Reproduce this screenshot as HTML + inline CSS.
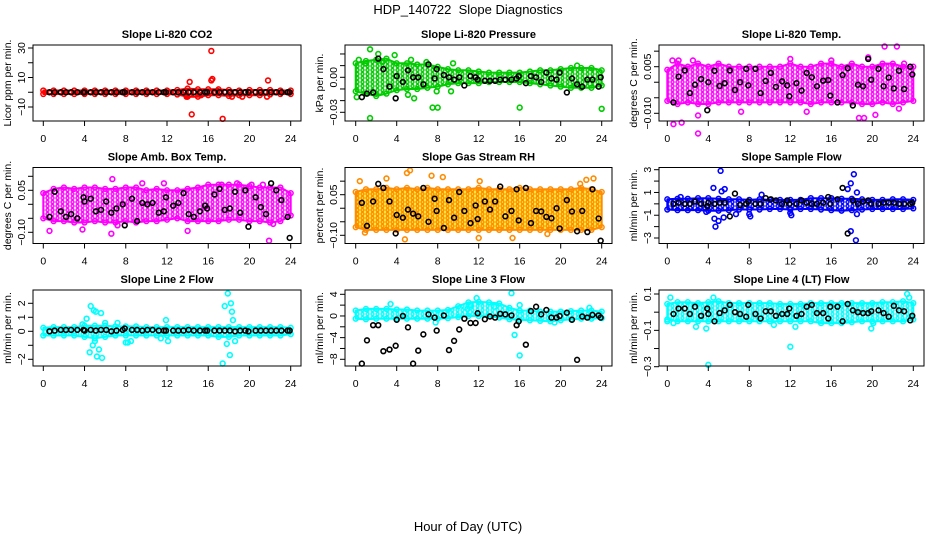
<!DOCTYPE html>
<html><head><meta charset="utf-8"><title>HDP_140722 Slope Diagnostics</title>
<style>
html,body{margin:0;padding:0;background:#fff;}
svg{display:block;font-family:"Liberation Sans",Helvetica,Arial,sans-serif;}
</style></head>
<body>
<svg id="chart" width="936" height="540" viewBox="0 0 936 540" xmlns="http://www.w3.org/2000/svg">
<defs id="defs"></defs>
<text x="468" y="14" text-anchor="middle" font-size="13">HDP_140722&#160; Slope Diagnostics</text>
<text x="468" y="531" text-anchor="middle" font-size="13">Hour of Day (UTC)</text>
</svg>
<script>
// ---- shared data ----
const xTicks = [0,4,8,12,16,20,24];
const bandHours = [0,1,2,3,4,5,6,7,8,9,10,11,12,13,14,15,16,17,18,19,20,21,22,23,24];
const blackHours = [0.6,1.1,1.7,2.2,2.7,3.3,3.9,4.0,4.6,5.1,5.6,6.1,6.6,7.1,7.7,7.9,8.6,9.1,9.6,10.1,10.6,11.2,11.7,11.9,12.6,13.1,13.6,14.1,14.6,15.2,15.7,15.9,16.6,17.1,17.6,18.1,18.6,19.1,19.6,19.9,20.6,21.1,21.6,22.1,22.6,23.1,23.7,23.9];

// Panel 1: CO2
const co2BandHi = [1.2,1.2,1.2,1.2,1.2,1.2,1.2,1.2,1.2,1.2,1.2,1.2,1.2,1.5,2.5,2,2,2,1.5,1.2,1.5,1.5,1.5,1.2,1.2];
const co2BandLo = [-1.2,-1.2,-1.2,-1.2,-1.2,-1.2,-1.2,-1.2,-1.2,-1.2,-1.2,-1.2,-1.2,-1.5,-3,-3,-2,-2,-2.5,-2,-2,-2,-1.5,-1.2,-1.2];
const co2OutX = [14.2,14.4,13.9,13.8,16.3,16.3,16.4,17.4,21.8,18.3,19.3,21.7,15.3,16.9,13.9];
const co2OutY = [7,-15,-3,1,28,8,9,-18,8,-3,-3,-3,-2,1,-2];
const co2Black = [0,0,0,0,0,0,0,0,0,0,0,0,0,0,0,0,0,0,0,0,0,0,0,0,0,0,0,0,0,0,0,0,0,0,0,0,0,0,0,0,0,0,0,0,0,0,0,0];

// Panel 2: Pressure
const presBandHi = [0.012,0.014,0.015,0.016,0.012,0.012,0.011,0.011,0.009,0.007,0.006,0.006,0.005,0.004,0.004,0.004,0.004,0.005,0.006,0.006,0.007,0.008,0.008,0.008,0.006];
const presBandLo = [-0.012,-0.014,-0.016,-0.014,-0.011,-0.010,-0.010,-0.009,-0.008,-0.006,-0.005,-0.005,-0.005,-0.004,-0.004,-0.004,-0.004,-0.005,-0.006,-0.007,-0.008,-0.009,-0.009,-0.009,-0.007];
const presOutX = [1.4,2.2,3.8,5.4,0.3,1.4,0.1,5.7,7.5,8.0,16.0,24.0,6.9,1.0,9.3,5.1,2.6,7.9,9.5,21.6];
const presOutY = [0.024,0.020,0.019,0.015,0.015,-0.035,-0.017,-0.018,-0.026,-0.026,-0.026,-0.027,0.013,0.012,-0.012,-0.015,0.013,-0.012,0.012,0.010];
const presBlack = [-0.017,-0.014,-0.013,0.016,0.007,-0.008,-0.018,0.001,-0.004,0.006,0.0,0.0,-0.006,0.011,-0.001,0.007,0.002,0.0,-0.002,0.0,-0.007,0.001,0.0,-0.002,-0.003,-0.003,-0.003,-0.002,-0.002,-0.002,-0.001,0.001,-0.005,0.001,0.0,-0.004,0.004,-0.001,-0.002,0.004,-0.013,-0.001,-0.006,-0.008,-0.002,-0.002,-0.008,0.0];

// Panel 3: Li-820 Temp
const ltBandHi = [0.004,0.006,0.005,0.006,0.005,0.006,0.005,0.005,0.005,0.005,0.005,0.005,0.006,0.005,0.005,0.006,0.006,0.005,0.006,0.005,0.005,0.006,0.006,0.005,0.005];
const ltBandLo = [-0.006,-0.007,-0.0065,-0.007,-0.007,-0.0065,-0.0065,-0.0065,-0.0065,-0.0065,-0.0065,-0.0065,-0.0065,-0.0065,-0.007,-0.0065,-0.0065,-0.0065,-0.0065,-0.007,-0.007,-0.0065,-0.007,-0.0065,-0.006];
const ltOutX = [0.6,1.4,3.0,21.2,22.4,18.7,19.2,20.3,3.0,19.6,7.2,0.5,1.1,2.5,13.6,16.0,12.0,22.6,23.1];
const ltOutY = [-0.0135,-0.013,-0.0165,0.0115,0.0115,-0.0115,-0.0115,-0.0105,-0.0107,0.008,-0.0095,0.007,0.007,0.007,-0.0095,0.007,0.0075,-0.0085,0.006];
const ltBlack = [-0.0065,0.0018,0.0038,-0.0035,-0.0008,0.001,-0.009,0.0,0.0037,-0.0012,-0.0003,0.0038,-0.0025,0.0,0.0043,-0.001,0.0043,-0.0035,0.0004,0.003,-0.0015,0.0003,-0.001,-0.0045,-0.0003,-0.0027,0.003,0.0016,-0.0013,0.0005,0.0007,-0.0043,-0.0065,0.0023,0.0045,-0.0075,-0.0008,-0.0013,0.0075,0.0008,0.0043,-0.0013,0.0015,-0.002,0.0037,-0.0022,0.005,0.0025];

// Panel 4: Amb. Box Temp
const abBandHi = [0.04,0.055,0.06,0.055,0.06,0.06,0.055,0.055,0.06,0.06,0.05,0.055,0.05,0.05,0.055,0.06,0.07,0.07,0.07,0.07,0.065,0.06,0.06,0.06,0.04];
const abBandLo = [-0.05,-0.06,-0.06,-0.065,-0.065,-0.06,-0.065,-0.065,-0.06,-0.065,-0.06,-0.06,-0.055,-0.05,-0.06,-0.06,-0.06,-0.06,-0.055,-0.055,-0.06,-0.06,-0.065,-0.06,-0.04];
const abOutX = [0.6,3.8,6.7,6.6,14.0,21.9,22.3,9.6,11.7,17.3,18.8,20.2,21.3,7.2];
const abOutY = [-0.095,-0.09,0.09,-0.105,-0.095,-0.13,-0.07,0.075,0.075,0.07,0.075,0.07,0.07,-0.075];
const abBlack = [-0.045,0.045,-0.025,-0.045,-0.035,-0.05,0.025,0.01,0.02,-0.025,-0.02,0.01,-0.03,-0.015,0.0,-0.075,0.02,-0.06,0.005,0.0,0.005,-0.03,-0.025,0.025,-0.005,0.005,0.04,-0.035,-0.045,-0.025,-0.005,-0.015,0.035,0.055,-0.02,-0.015,0.045,-0.03,0.05,-0.08,0.025,-0.01,-0.035,0.075,0.05,0.015,-0.045,-0.12];

// Panel 5: Gas Stream RH
const rhBandHi = [0.06,0.07,0.07,0.075,0.07,0.075,0.07,0.075,0.07,0.07,0.07,0.07,0.075,0.07,0.07,0.07,0.075,0.07,0.07,0.07,0.07,0.07,0.075,0.07,0.06];
const rhBandLo = [-0.07,-0.08,-0.08,-0.08,-0.08,-0.08,-0.08,-0.08,-0.08,-0.08,-0.08,-0.08,-0.08,-0.08,-0.08,-0.08,-0.08,-0.08,-0.08,-0.08,-0.08,-0.08,-0.08,-0.08,-0.07];
const rhOutX = [4.8,5.3,12.0,15.3,0.4,23.2,7.4,3.0,12.1,5.0,8.5,18.7,0.9,21.9,22.5];
const rhOutY = [-0.115,0.14,-0.11,-0.11,0.1,0.11,0.12,0.11,0.1,0.13,0.115,-0.095,-0.09,0.09,0.105];
const rhBlack = [0.02,-0.065,0.025,0.09,0.075,0.025,-0.093,-0.025,-0.035,-0.005,-0.02,-0.03,0.075,-0.05,0.035,-0.01,-0.073,0.03,-0.035,0.06,-0.01,-0.055,0.01,-0.04,0.025,-0.005,0.025,0.08,-0.03,-0.01,0.07,-0.045,0.075,-0.055,-0.01,-0.012,-0.032,-0.037,0.0,-0.075,0.03,-0.012,-0.085,-0.01,-0.088,0.07,-0.038,-0.12];

// Panel 6: Sample Flow
const sfBandHi = [0.4,0.45,0.45,0.5,0.5,0.45,0.4,0.4,0.35,0.4,0.35,0.35,0.35,0.35,0.5,0.5,0.5,0.45,0.45,0.4,0.35,0.35,0.4,0.4,0.35];
const sfBandLo = [-0.5,-0.55,-0.55,-0.55,-0.6,-0.6,-0.55,-0.5,-0.5,-0.5,-0.45,-0.45,-0.5,-0.45,-0.45,-0.5,-0.55,-0.6,-0.55,-0.5,-0.45,-0.45,-0.45,-0.45,-0.4];
const sfOutX = [4.5,5.2,5.3,5.6,4.7,4.6,5.0,5.5,8.1,8.0,12.1,9.2,17.6,17.9,18.2,18.5,17.9,18.4,18.5,6.7,1.3,12.0,3.8];
const sfOutY = [1.4,2.9,1.1,1.3,-2.0,-1.3,-1.5,-1.2,-1.1,-0.9,-1.0,0.8,1.3,1.8,2.6,1.0,-2.4,-3.2,-0.9,-0.9,0.6,-0.8,-0.7];
const sfBlack = [0.0,0.1,0.0,0.0,0.2,0.0,-0.2,0.1,0.0,0.1,0.1,-1.1,0.9,-0.1,0.0,0.2,0.0,0.0,0.5,0.4,0.3,0.0,0.3,0.0,0.0,0.3,0.1,0.0,0.0,0.1,0.6,0.0,0.4,1.4,-2.6,0.3,0.0,0.2,0.3,0.0,0.0,0.1,0.1,0.1,0.0,0.0,0.0,0.1];

// Panel 7: Line 2 Flow
const l2BandHi = [0.25,0.3,0.3,0.3,0.4,0.4,0.4,0.35,0.35,0.35,0.3,0.3,0.3,0.3,0.3,0.3,0.3,0.3,0.3,0.3,0.3,0.3,0.3,0.3,0.25];
const l2BandLo = [-0.3,-0.3,-0.3,-0.3,-0.4,-0.5,-0.4,-0.3,-0.3,-0.3,-0.3,-0.3,-0.3,-0.3,-0.3,-0.3,-0.3,-0.4,-0.4,-0.3,-0.3,-0.3,-0.3,-0.3,-0.2];
const l2OutX = [4.6,4.9,5.1,5.6,4.2,3.8,4.5,4.8,5.2,5.4,5.7,5.0,8.0,8.2,8.5,11.9,12.1,17.4,17.6,17.9,18.2,18.3,18.4,18.1,17.8,18.6,6.0,7.2,11.4];
const l2OutY = [1.8,1.5,1.4,1.3,0.9,0.5,-1.5,-1.0,-1.8,-1.3,-1.9,-0.7,-0.8,-0.8,-0.7,0.8,-0.7,-2.3,1.8,2.7,2.0,1.4,0.8,-1.7,-0.9,-0.7,0.6,0.6,-0.5];
const l2Black = [0.0,0.05,0.1,0.1,0.1,0.1,0.1,0.05,0.1,0.05,0.1,0.1,0.0,0.05,0.1,0.2,0.1,0.1,0.05,0.1,0.1,0.05,0.05,0.05,0.05,0.05,0.05,0.1,0.05,0.05,0.05,0.05,0.05,0.05,0.05,0.05,0.0,0.05,0.05,0.0,0.05,0.05,0.05,0.05,0.05,0.05,0.05,0.05];

// Panel 8: Line 3 Flow
const l3BandHi = [1.0,1.3,1.3,1.3,1.2,1.2,1.0,1.0,1.0,1.1,1.8,2.5,2.6,2.5,2.3,1.5,1.0,1.0,0.8,0.8,0.8,0.9,1.0,1.0,0.8];
const l3BandLo = [-0.5,-0.6,-0.5,-0.5,-0.5,-0.5,-0.5,-0.5,-0.5,-0.4,-0.2,0,0,0,-0.3,-0.6,-0.7,-0.8,-0.9,-1.0,-0.8,-0.6,-0.5,-0.5,-0.4];
const l3OutX = [3.4,11.2,11.8,15.2,16.0,15.5,16.0,13.5,10.9,22.8,19.4,7.8];
const l3OutY = [2.2,2.0,3.3,4.2,2.0,-3.5,-7.3,1.7,1.3,1.5,-1.2,-1.2];
const l3Black = [-8.8,-4.5,-1.7,-1.7,-6.5,-6.2,-5.5,-0.7,0.0,-2.1,-8.8,-6.4,-3.4,0.3,-0.3,-2.7,0.1,-6.3,-4.6,-2.5,-0.5,-1.3,-1.3,0.5,-0.6,-0.1,-0.3,0.4,0.3,0.1,-1.7,-1.0,-5.3,0.9,1.7,0.3,1.1,-0.3,-0.3,0.0,0.6,-0.7,-8.1,-0.1,-0.3,0.2,0.1,-0.3];

// Panel 9: Line 4 (LT) Flow
const l4BandHi = [0.045,0.055,0.055,0.05,0.055,0.06,0.05,0.05,0.05,0.05,0.05,0.045,0.045,0.045,0.05,0.05,0.05,0.05,0.05,0.05,0.05,0.055,0.055,0.06,0.05];
const l4BandLo = [-0.04,-0.05,-0.05,-0.05,-0.05,-0.05,-0.05,-0.05,-0.05,-0.05,-0.05,-0.05,-0.05,-0.05,-0.05,-0.06,-0.06,-0.06,-0.055,-0.05,-0.05,-0.05,-0.05,-0.05,-0.04];
const l4OutX = [0.3,0.6,2.8,3.8,4.0,12.0,12.5,19.9,20.1,23.4,23.6,0.0,4.5,10.4];
const l4OutY = [0.08,-0.06,-0.08,-0.09,-0.29,-0.19,-0.08,-0.09,-0.06,0.1,0.08,-0.05,0.08,-0.07];
const l4Black = [-0.01,0.02,0.02,-0.01,0.03,-0.02,0.02,-0.01,-0.05,-0.005,0.01,0.04,0.0,-0.01,-0.025,0.04,-0.01,-0.035,0.005,0.005,-0.02,-0.01,-0.01,0.02,-0.02,-0.01,0.03,0.04,-0.005,-0.005,-0.035,0.03,0.03,-0.05,0.045,0.01,0.0,-0.005,-0.005,0.005,0.01,-0.005,-0.025,0.035,0.01,0.005,-0.045,-0.02];

// Y tick values/labels
const p1Ticks=[-10,0,10,20,30], p1Labels=["-10","","10","","30"];
const p2Ticks=[-0.03,-0.02,-0.01,0,0.01,0.02], p2Labels=["-0.03","","","0.00","",""];
const p3Ticks=[-0.010,-0.005,0,0.005,0.010], p3Labels=["-0.010","","","0.005",""];
const p4Ticks=[-0.10,-0.05,0,0.05,0.10], p4Labels=["-0.10","","","0.05",""];
const p5Ticks=[-0.10,-0.05,0,0.05,0.10], p5Labels=["-0.10","","","0.05",""];
const p6Ticks=[-3,-2,-1,0,1,2,3], p6Labels=["-3","","-1","","1","","3"];
const p7Ticks=[-2,-1,0,1,2], p7Labels=["-2","","0","1","2"];
const p8Ticks=[-8,-6,-4,-2,0,2,4], p8Labels=["-8","","-4","","0","","4"];
const p9Ticks=[-0.3,-0.2,-0.1,0,0.1], p9Labels=["-0.3","","-0.1","","0.1"];

// ---- layout (not data) ----
const cols=[{l:33,r:301,x0:43.3,x24:290.7},{l:345,r:612,x0:355.7,x24:601.7},{l:659,r:924,x0:667.3,x24:913.3}];
const rows=[{t:45},{t:167.5},{t:290}];
const BOXH=76;
const panels=[
 {name:"co2",title:"Slope Li-820 CO2",ylab:"Licor ppm per min.",c:0,r:0,v1:30,p1:48,v2:-10,p2:107,col:"#ff0000",bg:"#ffffff",hi:co2BandHi,lo:co2BandLo,ox:co2OutX,oy:co2OutY,bk:co2Black,tk:p1Ticks,tl:p1Labels},
 {name:"pressure",title:"Slope Li-820 Pressure",ylab:"kPa per min.",c:1,r:0,v1:0,p1:77.3,v2:-0.03,p2:112.3,col:"#00cc00",bg:"#ffffff",hi:presBandHi,lo:presBandLo,ox:presOutX,oy:presOutY,bk:presBlack,tk:p2Ticks,tl:p2Labels},
 {name:"licor-temp",title:"Slope Li-820 Temp.",ylab:"degrees C per min.",c:2,r:0,v1:0.005,p1:66.7,v2:-0.010,p2:113.3,col:"#ff00ff",bg:"#ffffff",hi:ltBandHi,lo:ltBandLo,ox:ltOutX,oy:ltOutY,bk:ltBlack,tk:p3Ticks,tl:p3Labels},
 {name:"amb-box-temp",title:"Slope Amb. Box Temp.",ylab:"degrees C per min.",c:0,r:1,v1:0.05,p1:190.3,v2:-0.10,p2:232.3,col:"#ff00ff",bg:"#ffffff",hi:abBandHi,lo:abBandLo,ox:abOutX,oy:abOutY,bk:abBlack,tk:p4Ticks,tl:p4Labels},
 {name:"gas-stream-rh",title:"Slope Gas Stream RH",ylab:"percent per min.",c:1,r:1,v1:0.05,p1:194.7,v2:-0.10,p2:235.3,col:"#ff8c00",bg:"#ffee44",hi:rhBandHi,lo:rhBandLo,ox:rhOutX,oy:rhOutY,bk:rhBlack,tk:p5Ticks,tl:p5Labels},
 {name:"sample-flow",title:"Slope Sample Flow",ylab:"ml/min per min.",c:2,r:1,v1:3,p1:169.7,v2:-3,p2:238,col:"#0000ff",bg:"#ffffff",hi:sfBandHi,lo:sfBandLo,ox:sfOutX,oy:sfOutY,bk:sfBlack,tk:p6Ticks,tl:p6Labels},
 {name:"line2-flow",title:"Slope Line 2 Flow",ylab:"ml/min per min.",c:0,r:2,v1:2,p1:303.3,v2:-2,p2:359.3,col:"#00ffff",bg:"#ffffff",hi:l2BandHi,lo:l2BandLo,ox:l2OutX,oy:l2OutY,bk:l2Black,tk:p7Ticks,tl:p7Labels},
 {name:"line3-flow",title:"Slope Line 3 Flow",ylab:"ml/min per min.",c:1,r:2,v1:4,p1:294.3,v2:-8,p2:359.3,col:"#00ffff",bg:"#ffffff",hi:l3BandHi,lo:l3BandLo,ox:l3OutX,oy:l3OutY,bk:l3Black,tk:p8Ticks,tl:p8Labels},
 {name:"line4-flow",title:"Slope Line 4 (LT) Flow",ylab:"ml/min per min.",c:2,r:2,v1:0.1,p1:294,v2:-0.3,p2:366.7,col:"#00ffff",bg:"#ffffff",hi:l4BandHi,lo:l4BandLo,ox:l4OutX,oy:l4OutY,bk:l4Black,tk:p9Ticks,tl:p9Labels}
];

const NS="http://www.w3.org/2000/svg";
const svg=document.getElementById('chart');
const defs=document.getElementById('defs');
function mk(tag,parent){const e=document.createElementNS(NS,tag);parent.appendChild(e);return e;}

panels.forEach((p,pi)=>{
  // texture pattern
  const pat=mk('pattern',defs);
  pat.setAttribute('id','pat'+pi);
  pat.setAttribute('patternUnits','userSpaceOnUse');
  pat.setAttribute('width','5');pat.setAttribute('height','4');
  const pr=mk('rect',pat);
  pr.setAttribute('width','5');pr.setAttribute('height','4');pr.setAttribute('fill',p.bg);
  const pc=mk('circle',pat);
  pc.setAttribute('cx','2.5');pc.setAttribute('cy','2');pc.setAttribute('r','1.5');
  pc.setAttribute('fill','none');pc.setAttribute('stroke',p.col);pc.setAttribute('stroke-width','1.4');

  const C=cols[p.c], top=rows[p.r].t, bot=top+BOXH;
  const xs=h=>C.x0+h*(C.x24-C.x0)/24;
  const ys=v=>p.p1+(v-p.v1)*(p.p2-p.p1)/(p.v2-p.v1);
  const g=mk('g',svg);
  
  

  const title=mk('text',g);
  
  
  title.setAttribute('x',(C.l+C.r)/2);title.setAttribute('y',top-7);
  title.setAttribute('text-anchor','middle');title.setAttribute('font-size','11');title.setAttribute('font-weight','bold');
  title.textContent=p.title;

  const yl=mk('text',g);
  
  
  const ylx=C.l-22, yly=top+BOXH/2;
  yl.setAttribute('transform','translate('+ylx+','+yly+') rotate(-90)');
  yl.setAttribute('text-anchor','middle');yl.setAttribute('font-size','10.5');
  yl.textContent=p.ylab;

  // band
  const pts=[];
  bandHours.forEach((h,i)=>pts.push(xs(h).toFixed(1)+','+ys(p.hi[i]).toFixed(1)));
  for(let i=bandHours.length-1;i>=0;i--) pts.push(xs(bandHours[i]).toFixed(1)+','+ys(p.lo[i]).toFixed(1));
  const band=mk('polygon',g);
  
  
  band.setAttribute('points',pts.join(' '));
  band.setAttribute('fill','url(#pat'+pi+')');band.setAttribute('stroke',p.col);
  band.setAttribute('stroke-width','2');band.setAttribute('stroke-linejoin','round');

  // edge circles
  bandHours.forEach((h,i)=>{
    [p.hi[i],p.lo[i]].forEach(v=>{
      const c=mk('circle',g);
      
      
      c.setAttribute('cx',xs(h));c.setAttribute('cy',ys(v));c.setAttribute('r','2.4');
      c.setAttribute('fill','none');c.setAttribute('stroke',p.col);c.setAttribute('stroke-width','1.5');
    });
  });

  // outliers
  p.ox.forEach((h,i)=>{
    const c=mk('circle',g);
    
    
    c.setAttribute('cx',xs(h));c.setAttribute('cy',ys(p.oy[i]));c.setAttribute('r','2.4');
    c.setAttribute('fill','none');c.setAttribute('stroke',p.col);c.setAttribute('stroke-width','1.6');
  });

  // black points
  blackHours.forEach((h,i)=>{
    const c=mk('circle',g);
    
    
    c.setAttribute('cx',xs(h));c.setAttribute('cy',ys(p.bk[i]));c.setAttribute('r','2.4');
    c.setAttribute('fill','none');c.setAttribute('stroke','#000');c.setAttribute('stroke-width','1.6');
  });

  // box
  const box=mk('rect',g);
  
  
  box.setAttribute('x',C.l);box.setAttribute('y',top);box.setAttribute('width',C.r-C.l);box.setAttribute('height',BOXH);
  box.setAttribute('fill','none');box.setAttribute('stroke','#000');box.setAttribute('stroke-width','1');

  // x ticks
  xTicks.forEach(t=>{
    const x=xs(t);
    const ln=mk('line',g);
    
    
    ln.setAttribute('x1',x);ln.setAttribute('x2',x);ln.setAttribute('y1',bot);ln.setAttribute('y2',bot+5);
    ln.setAttribute('stroke','#000');
    const tx=mk('text',g);
    
    
    tx.setAttribute('x',x);tx.setAttribute('y',bot+21);tx.setAttribute('text-anchor','middle');tx.setAttribute('font-size','10.5');
    tx.textContent=String(t);
  });

  // y ticks
  p.tk.forEach((t,i)=>{
    const y=ys(t);
    const ln=mk('line',g);
    
    
    ln.setAttribute('x1',C.l-5);ln.setAttribute('x2',C.l);ln.setAttribute('y1',y);ln.setAttribute('y2',y);
    ln.setAttribute('stroke','#000');
    if(p.tl[i]){
      const tx=mk('text',g);
      
      
      tx.setAttribute('transform','translate('+(C.l-8)+','+y+') rotate(-90)');
      tx.setAttribute('text-anchor','middle');tx.setAttribute('font-size','10.5');
      tx.textContent=p.tl[i].replace('-','\u2212');
    }
  });
});
</script>
</body></html>
